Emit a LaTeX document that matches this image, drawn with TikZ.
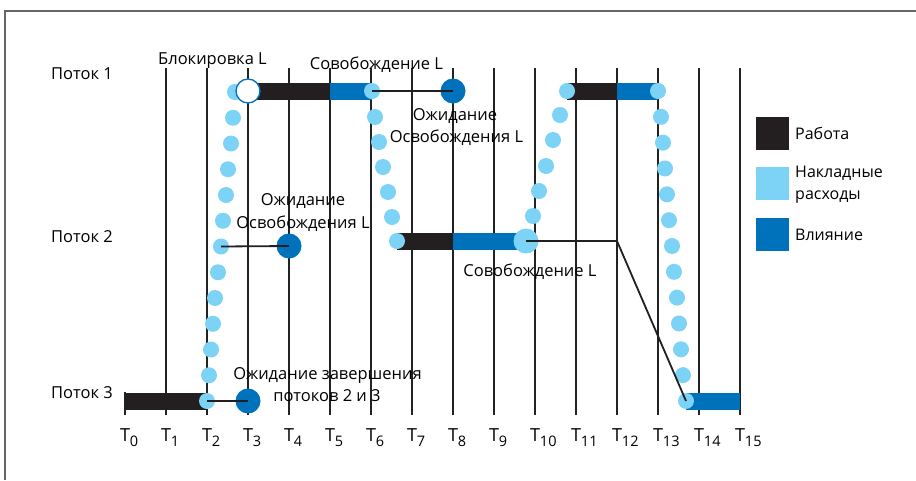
\documentclass[tikz,border=0pt]{standalone}
\usepackage{fontspec}
\setmainfont{Open Sans}
\definecolor{work}{HTML}{231F20}
\definecolor{dblue}{HTML}{0072BC}
\definecolor{lblue}{HTML}{7DD3F6}
\definecolor{gridc}{HTML}{222222}
\definecolor{framec}{HTML}{666666}
\begin{document}
\begin{tikzpicture}[x=1pt,y=-1pt,
  gridline/.style={line width=1.4pt, draw=gridc},
  barw/.style={line width=17pt, draw=work, line cap=butt},
  bari/.style={line width=17pt, draw=dblue, line cap=butt},
  ldot/.style={circle, fill=lblue, inner sep=0pt, minimum size=16pt},
  bigl/.style={circle, fill=lblue, inner sep=0pt, minimum size=25pt},
  wdot/.style={circle, fill=dblue, inner sep=0pt, minimum size=25pt},
  opendot/.style={circle, fill=white, draw=dblue, line width=1.3pt, inner sep=0pt, minimum size=24pt},
  conn/.style={line width=1.8pt, draw=work},
  lbl/.style={font=\fontsize{16.5}{19}\selectfont, inner sep=0pt, anchor=base},
  lgl/.style={font=\fontsize{16}{19}\selectfont, inner sep=0pt, anchor=base west},
  tl/.style={font=\fontsize{18}{20}\selectfont, inner sep=0pt, anchor=base},
  legbox/.style={inner sep=0pt, minimum size=33pt},
]
\useasboundingbox (0,0) rectangle (916,480);
% frame
\draw[framec, line width=2pt] (5,480) -- (5,11) -- (916,11);

% grid lines
\foreach \i in {1,...,15} {
  \draw[gridline] ({125+41*\i},68) -- ({125+41*\i},415);
}
\draw[gridline] (125,392) -- (125,415);

% time labels
\foreach \i in {0,...,15} {
  \node[tl] (t\i) at ({125+41*\i},441) {T\rlap{\raisebox{-5.5pt}{\fontsize{14.5}{15}\selectfont\i}}};
}

% thread labels
\node[lbl] (p1) at (82,79) {Поток 1};
\node[lbl] (p2) at (82,242) {Поток 2};
\node[lbl] (p3) at (82,398.5) {Поток 3};

% bar coordinates
\coordinate (r1a) at (248,91);
\coordinate (r1b) at (330,91);
\coordinate (r1c) at (372,91);
\coordinate (r1d) at (567,91);
\coordinate (r1e) at (617,91);
\coordinate (r1f) at (658,91);
\coordinate (r2a) at (397,241);
\coordinate (r2b) at (453,241);
\coordinate (r2c) at (526,241);
\coordinate (r3a) at (125,401);
\coordinate (r3b) at (207,401);
\coordinate (r3c) at (686,401);
\coordinate (r3d) at (740,401);

% bars
\draw[barw] (r1a) -- (r1b);
\draw[bari] (r1b) -- (r1c);
\draw[barw] (r1d) -- (r1e);
\draw[bari] (r1e) -- (r1f);
\draw[barw] (r2a) -- (r2b);
\draw[bari] (r2b) -- (r2c);
\draw[barw] (r3a) -- (r3b);
\draw[bari] (r3c) -- (r3d);

% overhead dots, curve A (thread 3 -> thread 1)
\foreach \x [count=\k from 0] in {207,209,211,213,215,218,221,223,226,228,231,233,235} {
  \node[ldot] (a\k) at (\x,{401-25.75*\k}) {};
}
% curve B (thread 1 -> thread 2)
\foreach \x/\y [count=\k from 0] in {372/91,375/117,379/142,383/167,388/192,392/217,397/241} {
  \node[ldot] (b\k) at (\x,\y) {};
}
% curve C (thread 2 -> thread 1)
\node[bigl] (c0) at (526,241) {};
\foreach \x/\y [count=\k from 1] in {533/216,539/191,546/166,553/140,560/115,567/91} {
  \node[ldot] (c\k) at (\x,\y) {};
}
% curve D (thread 1 -> thread 3)
\foreach \x [count=\k from 0] in {658,661,663,665,667,669,672,674,677,679,681,683,686} {
  \node[ldot] (d\k) at (\x,{91+25.83*\k}) {};
}

% lock circle
\node[opendot] (lock) at (248,91) {};

% wait circles
\node[wdot] (w1) at (453,91) {};
\node[wdot] (w2) at (289,246) {};
\node[wdot] (w3) at (248,401) {};

% connectors
\coordinate (bend) at (617,241);
\draw[conn] (b0.center) -- (w1.center);
\draw[conn] (a6.center) -- (w2.center);
\draw[conn] (a0.center) -- (w3.center);
\draw[conn] (c0.center) -- (bend) -- (d12.center);

% annotations
\node[lbl] (lk) at (212.5,64) {Блокировка L};
\node[lbl] (rel1) at (376.5,69.3) {Совобождение L};
\node[lbl] (wa1) at (455,120) {Ожидание};
\node[lbl] (wb1) at (456.5,142) {Освобождения L};
\node[lbl] (wa2) at (303,205.7) {Ожидание};
\node[lbl] (wb2) at (303,228.3) {Освобождения L};
\node[lbl] (rel2) at (530,276.7) {Совобождение L};
\node[lbl] (wa3) at (327.5,379) {Ожидание завершения};
\node[lbl] (wb3) at (327,401.7) {потоков 2 и 3};

% legend
\node[legbox, fill=work] (lg1) at (772.5,133.5) {};
\node[legbox, fill=lblue] (lg2) at (772.5,183.5) {};
\node[legbox, fill=dblue] (lg3) at (772.5,234.5) {};
\node[lgl] (lt1) at (795,139.3) {Работа};
\node[lgl] (lt2a) at (795,177.3) {Накладные};
\node[lgl] (lt2b) at (795,199.3) {расходы};
\node[lgl] (lt3) at (795,240) {Влияние};
\end{tikzpicture}
\end{document}
